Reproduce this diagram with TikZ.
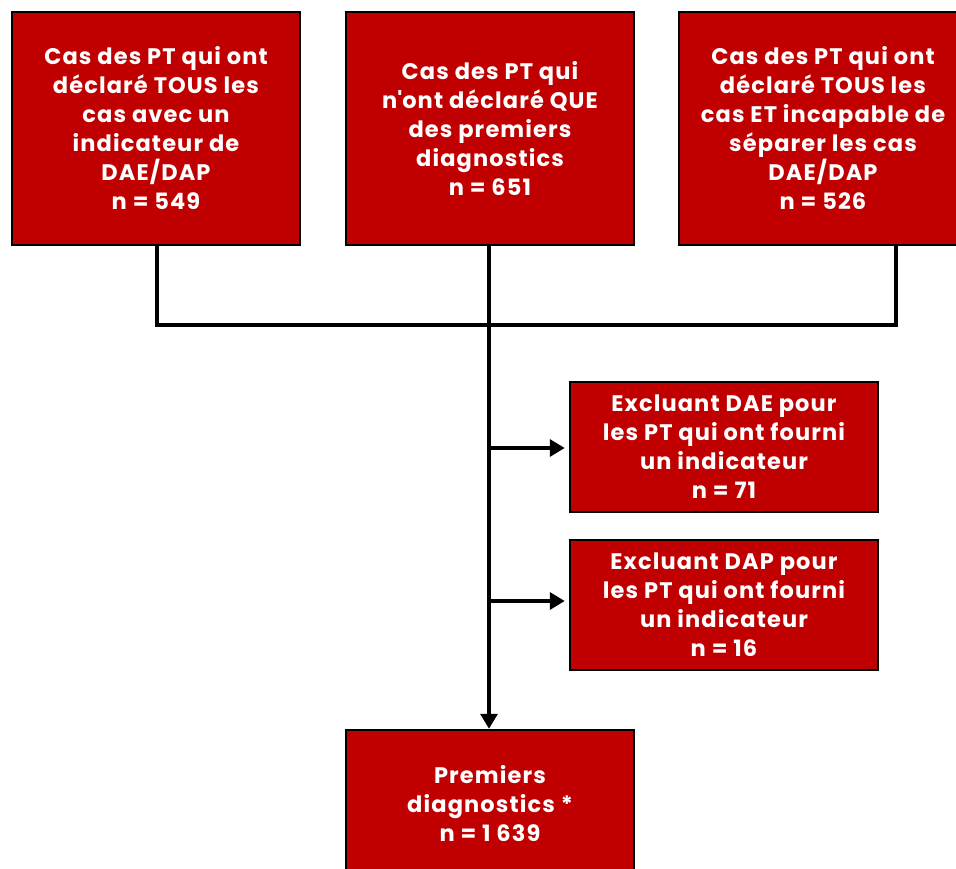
\documentclass[tikz,border=0pt]{standalone}
\usepackage{fontspec}
\setmainfont{Poppins}[LetterSpace=5]
\usetikzlibrary{arrows.meta}
\definecolor{boxred}{HTML}{C00000}
\tikzset{
  redbox/.style={draw=black, line width=2.5pt, fill=boxred, text=white,
    minimum width=288pt, align=center, inner sep=0pt,
    font=\bfseries\fontsize{22.5}{29}\selectfont},
  link/.style={line width=3.5pt},
  linkarrow/.style={line width=3.5pt, -{Triangle[length=15pt,width=17pt]}}
}
\begin{document}
\begin{tikzpicture}[x=1pt, y=-1pt]
  \useasboundingbox (0,0) rectangle (956,869);
  \clip (0,0) rectangle (956,869);
  % Top boxes
  \node[redbox, minimum height=233pt] (pt1) at (156,128.5)
    {Cas des PT qui ont\\déclaré TOUS les\\cas avec un\\indicateur de\\DAE/DAP\\n = 549};
  \node[redbox, minimum height=233pt] (pt2) at (490,128.5)
    {Cas des PT qui\\n\textquotesingle ont déclaré QUE\\des premiers\\diagnostics\\n = 651};
  \node[redbox, minimum height=233pt] (pt3) at (823,128.5)
    {Cas des PT qui ont\\déclaré TOUS les\\cas ET incapable de\\séparer les cas\\DAE/DAP\\n = 526};

  % Exclusions
  \node[redbox, minimum width=308pt, minimum height=130pt] (exdae) at (724,447)
    {Excluant DAE pour\\les PT qui ont fourni\\un indicateur\\n = 71};
  \node[redbox, minimum width=308pt, minimum height=130pt] (exdap) at (724,605)
    {Excluant DAP pour\\les PT qui ont fourni\\un indicateur\\n = 16};

  % Result
  \node[redbox, minimum height=148pt] (prem) at (490,804)
    {Premiers\\diagnostics *\\n = 1 639};

  \coordinate (j1) at (157,325);
  \coordinate (j2) at (489,325);
  \coordinate (j3) at (896,325);
  \coordinate (a1) at (489,448);
  \coordinate (a2) at (489,601);

  \draw[link] (pt1.south -| j1) -- (j1) -- (j3) -- (pt3.south -| j3);
  \draw[link] (pt2.south -| j2) -- (j2);
  \draw[linkarrow] (j2) -- (prem.north -| j2);
  \draw[linkarrow] (a1) -- ([xshift=-4pt]exdae.west |- a1);
  \draw[linkarrow] (a2) -- ([xshift=-4pt]exdap.west |- a2);
\end{tikzpicture}
\end{document}
